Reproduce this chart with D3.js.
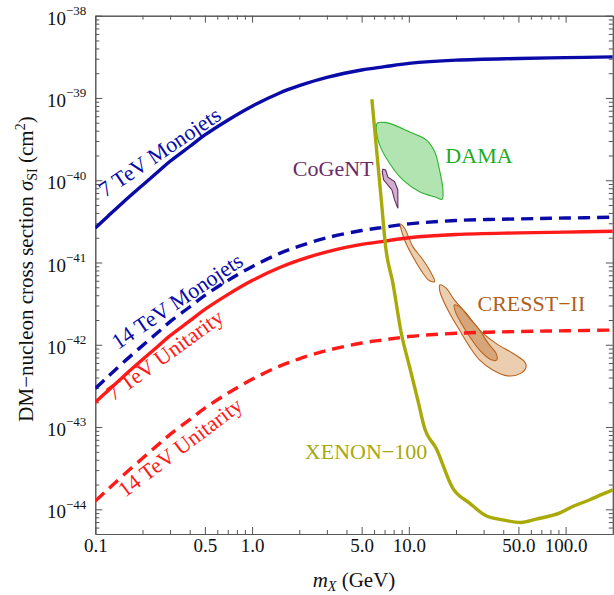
<!DOCTYPE html>
<html>
<head>
<meta charset="utf-8">
<script src="https://cdn.jsdelivr.net/npm/d3@7"></script>
<style>
  body { margin: 0; background: #ffffff; }
  text { font-family: "Liberation Serif", "DejaVu Serif", serif; }
</style>
</head>
<body>
<svg id="chart" width="614" height="595"></svg>
<script>
// ---------------- DATA ----------------
// Mass grid (GeV) for the theory curves
const mass = [0.1, 0.12, 0.15, 0.2, 0.25, 0.3, 0.4, 0.5, 0.7, 1, 1.5, 2, 3, 5, 7, 10, 20, 50, 100, 200];
// Cross sections (cm^2)
const monojet7    = [2.63e-41, 3.63e-41, 5.37e-41, 8.71e-41, 1.26e-40, 1.70e-40, 2.57e-40, 3.55e-40, 5.37e-40, 7.94e-40, 1.15e-39, 1.41e-39, 1.78e-39, 2.19e-39, 2.40e-39, 2.63e-39, 2.88e-39, 3.02e-39, 3.09e-39, 3.16e-39];
const monojet14   = [2.95e-43, 4.07e-43, 6.03e-43, 9.77e-43, 1.41e-42, 1.91e-42, 2.88e-42, 3.98e-42, 6.03e-42, 8.91e-42, 1.29e-41, 1.58e-41, 2.00e-41, 2.45e-41, 2.69e-41, 2.95e-41, 3.24e-41, 3.39e-41, 3.47e-41, 3.55e-41];
const unitarity7  = [2.00e-43, 2.75e-43, 4.07e-43, 6.61e-43, 9.55e-43, 1.29e-42, 1.95e-42, 2.69e-42, 4.07e-42, 6.03e-42, 8.71e-42, 1.07e-41, 1.35e-41, 1.66e-41, 1.82e-41, 2.00e-41, 2.19e-41, 2.29e-41, 2.34e-41, 2.40e-41];
const unitarity14 = [1.26e-44, 1.74e-44, 2.57e-44, 4.17e-44, 6.03e-44, 8.13e-44, 1.23e-43, 1.70e-43, 2.57e-43, 3.80e-43, 5.50e-43, 6.76e-43, 8.51e-43, 1.05e-42, 1.15e-42, 1.26e-42, 1.38e-42, 1.45e-42, 1.48e-42, 1.51e-42];

// XENON-100 exclusion limit
const xenonMass  = [5.81, 6.67, 7.11, 7.91, 8.95, 10.1, 11.4, 12.6, 14.9, 19.05, 24.4, 31.1, 39.7, 52.0, 64.8, 91.2, 110.9, 141.6, 172.2, 201];
const xenonSigma = [9.64e-40, 5.77e-41, 1.56e-41, 5.61e-42, 1.38e-42, 5.43e-43, 2.14e-43, 9.70e-44, 5.55e-44, 1.81e-44, 1.19e-44, 8.34e-45, 7.45e-45, 6.92e-45, 7.60e-45, 8.99e-45, 1.08e-44, 1.30e-44, 1.53e-44, 1.73e-44];

// DAMA region (closed contour)
const damaMass  = [6.29, 7.18, 10.6, 12.9, 14.6, 15.7, 16.5, 16.3, 14.9, 11.7, 9.16, 7.53, 6.51, 6.20];
const damaSigma = [4.93e-40, 5.01e-40, 3.72e-40, 3.09e-40, 2.23e-40, 1.33e-40, 7.62e-41, 5.87e-41, 6.21e-41, 7.26e-41, 1.01e-40, 1.61e-40, 2.69e-40, 4.29e-40];

// CoGeNT region
const cogentMass  = [6.83, 7.11, 7.35, 8.11, 8.51, 8.51, 8.11, 7.80, 6.90, 6.77];
const cogentSigma = [1.36e-40, 1.33e-40, 1.09e-40, 9.62e-41, 7.62e-41, 4.57e-41, 5.77e-41, 7.62e-41, 1.01e-40, 1.27e-40];

// CRESST-II regions
const cresstAMass  = [8.81, 9.39, 10.6, 12.3, 13.9, 14.6, 13.5, 12.3, 10.6, 9.39, 8.95];
const cresstASigma = [2.94e-41, 2.61e-41, 1.56e-41, 1.08e-41, 7.41e-42, 5.86e-42, 6.03e-42, 7.41e-42, 1.18e-41, 1.88e-41, 2.49e-41];
const cresstBMass  = [15.8, 17.3, 19.5, 23.2, 28.2, 36.0, 46.0, 54.6, 56.0, 52.0, 42.7, 34.3, 28.2, 24.4, 21.0, 18.2, 16.5, 15.7];
const cresstBSigma = [5.35e-42, 4.88e-42, 3.52e-42, 2.42e-42, 1.52e-42, 1.04e-42, 7.90e-43, 6.25e-43, 5.43e-43, 4.52e-43, 4.19e-43, 4.95e-43, 6.56e-43, 9.50e-43, 1.52e-42, 2.42e-42, 3.52e-42, 4.65e-42];
const cresstCMass  = [19.5, 21.0, 24.4, 28.2, 32.1, 36.0, 36.4, 33.5, 28.2, 24.4, 21.6, 19.8];
const cresstCSigma = [3.05e-42, 2.91e-42, 2.10e-42, 1.52e-42, 1.04e-42, 7.90e-43, 6.56e-43, 6.56e-43, 8.67e-43, 1.26e-42, 1.83e-42, 2.53e-42];

// Axis ticks
const xTickValues = [0.1, 0.5, 1, 5, 10, 50, 100];
const xTickLabels = ["0.1", "0.5", "1.0", "5.0", "10.0", "50.0", "100.0"];
const yTickExponents = [-38, -39, -40, -41, -42, -43, -44];

// Labels (anchored in data coordinates)
const curveLabels = [
  { text: "7 TeV Monojets",   m: 0.1153, s: 6.1e-41,  angle: -34, color: "#0a0aa8" },
  { text: "14 TeV Monojets",  m: 0.1395, s: 8.67e-43, angle: -34, color: "#0a0aa8" },
  { text: "7 TeV Unitarity",  m: 0.1302, s: 2.04e-43, angle: -36, color: "#ff1a1a" },
  { text: "14 TeV Unitarity", m: 0.1546, s: 1.37e-44, angle: -37, color: "#ff1a1a" }
];
const regionLabels = [
  { text: "CoGeNT",         m: 1.82, s: 1.13e-40, color: "#6a2a6a" },
  { text: "DAMA",           m: 17.1, s: 1.62e-40, color: "#22aa22" },
  { text: "CRESST\u2212II", m: 27.4, s: 2.58e-42, color: "#b0601a" },
  { text: "XENON\u2212100", m: 2.17, s: 4.12e-44, color: "#a8a810" }
];

// ---------------- CHART ----------------
const L = 95.3, R = 612.8, T = 15.7, B = 534;
const svg = d3.select("#chart");
const x = d3.scaleLog().domain([0.1, 200]).range([L, R]);
const y = d3.scaleLog().domain([Math.pow(10, -44.3), 1e-38]).range([B, T]);

const frameColor = "#555555";
const xMajor = xTickValues;
const xMinor = [];
for (let d = 0.1; d < 200; d *= 10) {
  for (let k = 2; k <= 9; k++) {
    const v = +(k * d).toPrecision(3);
    if (v < 200 && !xMajor.includes(v)) xMinor.push(v);
  }
}
const yMajor = yTickExponents.map(e => Math.pow(10, e));
const yMinor = [];
for (let e = -45; e < -38; e++) {
  for (let k = 2; k <= 9; k++) {
    const v = k * Math.pow(10, e);
    if (v > y.domain()[0] && v < 1e-38) yMinor.push(v);
  }
}

svg.append("defs").append("clipPath").attr("id", "plotclip")
  .append("rect").attr("x", L).attr("y", T).attr("width", R - L).attr("height", B - T);

function styleAxis(g) {
  g.selectAll("path.domain").attr("stroke", frameColor).attr("stroke-width", 1);
  g.selectAll(".tick line").attr("stroke", frameColor).attr("stroke-width", 1);
  g.attr("font-family", null).attr("font-size", null);
  g.selectAll("text").attr("fill", "#111").attr("font-size", "19px")
    .attr("font-family", "'Liberation Serif', serif");
}

// bottom
const gB = svg.append("g").attr("transform", `translate(0,${B})`);
gB.call(d3.axisBottom(x).tickValues(xMajor).tickSizeInner(-7).tickSizeOuter(0).tickPadding(5)
  .tickFormat(d => xTickLabels[xTickValues.indexOf(d)]));
styleAxis(gB);
const gBm = svg.append("g").attr("transform", `translate(0,${B})`);
gBm.call(d3.axisBottom(x).tickValues(xMinor).tickSizeInner(-4).tickSizeOuter(0).tickFormat(""));
styleAxis(gBm);
// top
const gT = svg.append("g").attr("transform", `translate(0,${T})`);
gT.call(d3.axisTop(x).tickValues(xMajor).tickSizeInner(-7).tickSizeOuter(0).tickFormat(""));
styleAxis(gT);
const gTm = svg.append("g").attr("transform", `translate(0,${T})`);
gTm.call(d3.axisTop(x).tickValues(xMinor).tickSizeInner(-4).tickSizeOuter(0).tickFormat(""));
styleAxis(gTm);
// left
const gL = svg.append("g").attr("transform", `translate(${L},0)`);
gL.call(d3.axisLeft(y).tickValues(yMajor).tickSizeInner(-7).tickSizeOuter(0).tickPadding(9).tickFormat(""));
styleAxis(gL);
gL.selectAll(".tick text").each(function (d) {
  const t = d3.select(this);
  const e = Math.round(Math.log10(d));
  t.attr("dy", "0.45em");
  t.append("tspan").text("10");
  t.append("tspan").attr("dy", "-0.75em").attr("font-size", "13px").text("\u2212" + Math.abs(e));
});
const gLm = svg.append("g").attr("transform", `translate(${L},0)`);
gLm.call(d3.axisLeft(y).tickValues(yMinor).tickSizeInner(-4).tickSizeOuter(0).tickFormat(""));
styleAxis(gLm);
// right
const gR = svg.append("g").attr("transform", `translate(${R},0)`);
gR.call(d3.axisRight(y).tickValues(yMajor).tickSizeInner(-7).tickSizeOuter(0).tickFormat(""));
styleAxis(gR);
const gRm = svg.append("g").attr("transform", `translate(${R},0)`);
gRm.call(d3.axisRight(y).tickValues(yMinor).tickSizeInner(-4).tickSizeOuter(0).tickFormat(""));
styleAxis(gRm);

// plot content
const plot = svg.append("g").attr("clip-path", "url(#plotclip)");

const regionLine = d3.line().x(d => x(d[0])).y(d => y(d[1]));
function region(ms, ss, fill, stroke, curve) {
  plot.append("path")
    .attr("d", regionLine.curve(curve)(ms.map((m, i) => [m, ss[i]])))
    .attr("fill", fill).attr("stroke", stroke).attr("stroke-width", 1.1);
}
region(damaMass, damaSigma, "#b2e4b2", "#2fb22f", d3.curveCatmullRomClosed.alpha(0.5));
region(cogentMass, cogentSigma, "#cdb0cd", "#6a2a6a", d3.curveLinearClosed);
region(cresstAMass, cresstASigma, "#ebcdb0", "#b8641e", d3.curveCatmullRomClosed.alpha(0.5));
region(cresstBMass, cresstBSigma, "#ebcdb0", "#b8641e", d3.curveCatmullRomClosed.alpha(0.5));
region(cresstCMass, cresstCSigma, "#d6a67a", "#b8641e", d3.curveCatmullRomClosed.alpha(0.5));

const smooth = d3.line().x(d => x(d[0])).y(d => y(d[1])).curve(d3.curveCatmullRom.alpha(0.5));
function theory(vals, color, dash) {
  plot.append("path")
    .attr("d", smooth(mass.map((m, i) => [m, vals[i]])))
    .attr("fill", "none").attr("stroke", color).attr("stroke-width", 3.4)
    .attr("stroke-dasharray", dash);
}
theory(unitarity14, "#ff1a1a", "12,7");
theory(unitarity7, "#ff1a1a", null);
theory(monojet14, "#0a0aa8", "12,7");
theory(monojet7, "#0a0aa8", null);

plot.append("path")
  .attr("d", d3.line().x(d => x(d[0])).y(d => y(d[1])).curve(d3.curveMonotoneX)(xenonMass.map((m, i) => [m, xenonSigma[i]])))
  .attr("fill", "none").attr("stroke", "#a9a90a").attr("stroke-width", 3.4)
  .attr("stroke-linejoin", "round");

// curve labels
curveLabels.forEach(l => {
  svg.append("text")
    .attr("transform", `translate(${x(l.m)},${y(l.s)}) rotate(${l.angle})`)
    .attr("fill", l.color).attr("font-size", "22px")
    .text(l.text);
});
regionLabels.forEach(l => {
  svg.append("text")
    .attr("x", x(l.m)).attr("y", y(l.s))
    .attr("fill", l.color).attr("font-size", "22px")
    .text(l.text);
});

// axis titles
const xt = svg.append("text").attr("x", 354).attr("y", 587).attr("text-anchor", "middle")
  .attr("font-size", "21px").attr("fill", "#111");
xt.append("tspan").attr("font-style", "italic").text("m");
xt.append("tspan").attr("font-style", "italic").attr("font-size", "14px").attr("dy", "4").text("X");
xt.append("tspan").attr("dy", "-4").text(" (GeV)");

const yt = svg.append("text").attr("transform", "translate(33,269) rotate(-90)")
  .attr("text-anchor", "middle").attr("font-size", "21px").attr("fill", "#111");
yt.append("tspan").text("DM\u2212nucleon cross section ");
yt.append("tspan").attr("font-style", "italic").text("\u03c3");
yt.append("tspan").attr("font-size", "14px").attr("dy", "4").text("SI");
yt.append("tspan").attr("dy", "-4").text(" (cm");
yt.append("tspan").attr("font-size", "14px").attr("dy", "-8").text("2");
yt.append("tspan").attr("dy", "8").text(")");
</script>
</body>
</html>
